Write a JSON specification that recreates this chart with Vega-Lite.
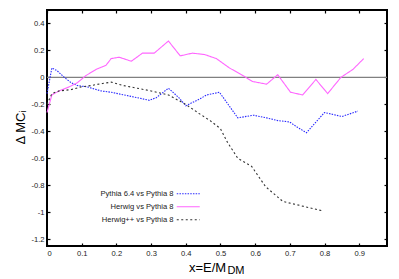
{
  "$schema": "https://vega.github.io/schema/vega-lite/v6.json",
  "width": 340,
  "height": 236,
  "autosize": {"type": "none"},
  "padding": {"left": 47, "top": 10, "right": 12, "bottom": 33},
  "background": "white",
  "config": {
    "view": {"stroke": "black", "strokeWidth": 2},
    "font": "Liberation Sans",
    "axis": {
      "grid": false,
      "domain": false,
      "tickColor": "black",
      "tickWidth": 1.2,
      "tickSize": -3,
      "labelFont": "Liberation Sans",
      "labelFontSize": 7.6,
      "labelColor": "#222",
      "titleFont": "Liberation Sans",
      "titleFontWeight": "normal",
      "titleColor": "black"
    }
  },
  "data": {
    "values": [
      {"series": "Pythia 6.4 vs Pythia 8", "x": 0, "y": -0.12},
      {"series": "Pythia 6.4 vs Pythia 8", "x": 0.014, "y": 0.07},
      {"series": "Pythia 6.4 vs Pythia 8", "x": 0.029, "y": 0.05},
      {"series": "Pythia 6.4 vs Pythia 8", "x": 0.05, "y": 0.0},
      {"series": "Pythia 6.4 vs Pythia 8", "x": 0.07, "y": -0.04},
      {"series": "Pythia 6.4 vs Pythia 8", "x": 0.087, "y": -0.06},
      {"series": "Pythia 6.4 vs Pythia 8", "x": 0.116, "y": -0.07},
      {"series": "Pythia 6.4 vs Pythia 8", "x": 0.156, "y": -0.1},
      {"series": "Pythia 6.4 vs Pythia 8", "x": 0.185, "y": -0.11},
      {"series": "Pythia 6.4 vs Pythia 8", "x": 0.222, "y": -0.13},
      {"series": "Pythia 6.4 vs Pythia 8", "x": 0.26, "y": -0.15},
      {"series": "Pythia 6.4 vs Pythia 8", "x": 0.295, "y": -0.17},
      {"series": "Pythia 6.4 vs Pythia 8", "x": 0.315, "y": -0.15},
      {"series": "Pythia 6.4 vs Pythia 8", "x": 0.35, "y": -0.08},
      {"series": "Pythia 6.4 vs Pythia 8", "x": 0.38, "y": -0.15},
      {"series": "Pythia 6.4 vs Pythia 8", "x": 0.4, "y": -0.21},
      {"series": "Pythia 6.4 vs Pythia 8", "x": 0.44, "y": -0.16},
      {"series": "Pythia 6.4 vs Pythia 8", "x": 0.46, "y": -0.13},
      {"series": "Pythia 6.4 vs Pythia 8", "x": 0.497, "y": -0.11},
      {"series": "Pythia 6.4 vs Pythia 8", "x": 0.55, "y": -0.3},
      {"series": "Pythia 6.4 vs Pythia 8", "x": 0.595, "y": -0.28},
      {"series": "Pythia 6.4 vs Pythia 8", "x": 0.633, "y": -0.3},
      {"series": "Pythia 6.4 vs Pythia 8", "x": 0.665, "y": -0.32},
      {"series": "Pythia 6.4 vs Pythia 8", "x": 0.699, "y": -0.33},
      {"series": "Pythia 6.4 vs Pythia 8", "x": 0.722, "y": -0.37},
      {"series": "Pythia 6.4 vs Pythia 8", "x": 0.748, "y": -0.41},
      {"series": "Pythia 6.4 vs Pythia 8", "x": 0.772, "y": -0.34},
      {"series": "Pythia 6.4 vs Pythia 8", "x": 0.8, "y": -0.26},
      {"series": "Pythia 6.4 vs Pythia 8", "x": 0.85, "y": -0.29},
      {"series": "Pythia 6.4 vs Pythia 8", "x": 0.896, "y": -0.25},

      {"series": "Herwig vs Pythia 8", "x": 0, "y": -0.26},
      {"series": "Herwig vs Pythia 8", "x": 0.014, "y": -0.13},
      {"series": "Herwig vs Pythia 8", "x": 0.035, "y": -0.1},
      {"series": "Herwig vs Pythia 8", "x": 0.064, "y": -0.07},
      {"series": "Herwig vs Pythia 8", "x": 0.087, "y": -0.04},
      {"series": "Herwig vs Pythia 8", "x": 0.113, "y": 0.015},
      {"series": "Herwig vs Pythia 8", "x": 0.142, "y": 0.06},
      {"series": "Herwig vs Pythia 8", "x": 0.17, "y": 0.09},
      {"series": "Herwig vs Pythia 8", "x": 0.185, "y": 0.14},
      {"series": "Herwig vs Pythia 8", "x": 0.208, "y": 0.15},
      {"series": "Herwig vs Pythia 8", "x": 0.243, "y": 0.12},
      {"series": "Herwig vs Pythia 8", "x": 0.275, "y": 0.18},
      {"series": "Herwig vs Pythia 8", "x": 0.309, "y": 0.18},
      {"series": "Herwig vs Pythia 8", "x": 0.35, "y": 0.27},
      {"series": "Herwig vs Pythia 8", "x": 0.384, "y": 0.16},
      {"series": "Herwig vs Pythia 8", "x": 0.419, "y": 0.18},
      {"series": "Herwig vs Pythia 8", "x": 0.454, "y": 0.17},
      {"series": "Herwig vs Pythia 8", "x": 0.488, "y": 0.14},
      {"series": "Herwig vs Pythia 8", "x": 0.526, "y": 0.07},
      {"series": "Herwig vs Pythia 8", "x": 0.564, "y": 0.015},
      {"series": "Herwig vs Pythia 8", "x": 0.592, "y": -0.03},
      {"series": "Herwig vs Pythia 8", "x": 0.613, "y": -0.04},
      {"series": "Herwig vs Pythia 8", "x": 0.633, "y": -0.05},
      {"series": "Herwig vs Pythia 8", "x": 0.665, "y": 0.02},
      {"series": "Herwig vs Pythia 8", "x": 0.702, "y": -0.11},
      {"series": "Herwig vs Pythia 8", "x": 0.737, "y": -0.13},
      {"series": "Herwig vs Pythia 8", "x": 0.775, "y": -0.015},
      {"series": "Herwig vs Pythia 8", "x": 0.809, "y": -0.12},
      {"series": "Herwig vs Pythia 8", "x": 0.847, "y": 0.0},
      {"series": "Herwig vs Pythia 8", "x": 0.882, "y": 0.06},
      {"series": "Herwig vs Pythia 8", "x": 0.913, "y": 0.14},

      {"series": "Herwig++ vs Pythia 8", "x": 0, "y": -0.2},
      {"series": "Herwig++ vs Pythia 8", "x": 0.014, "y": -0.12},
      {"series": "Herwig++ vs Pythia 8", "x": 0.035, "y": -0.1},
      {"series": "Herwig++ vs Pythia 8", "x": 0.07, "y": -0.09},
      {"series": "Herwig++ vs Pythia 8", "x": 0.098, "y": -0.07},
      {"series": "Herwig++ vs Pythia 8", "x": 0.127, "y": -0.06},
      {"series": "Herwig++ vs Pythia 8", "x": 0.16, "y": -0.045},
      {"series": "Herwig++ vs Pythia 8", "x": 0.185, "y": -0.035},
      {"series": "Herwig++ vs Pythia 8", "x": 0.22, "y": -0.06},
      {"series": "Herwig++ vs Pythia 8", "x": 0.26, "y": -0.08},
      {"series": "Herwig++ vs Pythia 8", "x": 0.3, "y": -0.1},
      {"series": "Herwig++ vs Pythia 8", "x": 0.35, "y": -0.13},
      {"series": "Herwig++ vs Pythia 8", "x": 0.4, "y": -0.2},
      {"series": "Herwig++ vs Pythia 8", "x": 0.44, "y": -0.27},
      {"series": "Herwig++ vs Pythia 8", "x": 0.47, "y": -0.32},
      {"series": "Herwig++ vs Pythia 8", "x": 0.5, "y": -0.38},
      {"series": "Herwig++ vs Pythia 8", "x": 0.52, "y": -0.48},
      {"series": "Herwig++ vs Pythia 8", "x": 0.55, "y": -0.6},
      {"series": "Herwig++ vs Pythia 8", "x": 0.59, "y": -0.66},
      {"series": "Herwig++ vs Pythia 8", "x": 0.63, "y": -0.81},
      {"series": "Herwig++ vs Pythia 8", "x": 0.68, "y": -0.92},
      {"series": "Herwig++ vs Pythia 8", "x": 0.73, "y": -0.95},
      {"series": "Herwig++ vs Pythia 8", "x": 0.795, "y": -0.99}
    ]
  },
  "layer": [
    {
      "data": {"values": [{"label": "zero"}]},
      "mark": {"type": "rule", "color": "#808080", "strokeWidth": 1.3},
      "encoding": {
        "x": {"datum": 0, "type": "quantitative", "scale": {"domain": [0, 0.98], "nice": false, "zero": false},
          "axis": {"orient": "top", "labels": false, "title": null, "values": [0, 0.1, 0.2, 0.3, 0.4, 0.5, 0.6, 0.7, 0.8, 0.9]}},
        "x2": {"datum": 0.98},
        "y": {"datum": 0, "type": "quantitative", "scale": {"domain": [-1.25, 0.5], "nice": false, "zero": false},
          "axis": {"orient": "right", "labels": false, "title": null, "values": [-1.2, -1, -0.8, -0.6, -0.4, -0.2, 0, 0.2, 0.4]}}
      }
    },
    {
      "mark": {"type": "line", "strokeWidth": 1.1},
      "encoding": {
        "x": {"field": "x", "type": "quantitative",
          "axis": {"orient": "bottom", "values": [0, 0.1, 0.2, 0.3, 0.4, 0.5, 0.6, 0.7, 0.8, 0.9],
            "labelExpr": "replace(format(datum.value, '~g'), '\u2212', '-')", "labelPadding": 6,
            "title": "x=E/M", "titleFontSize": 13, "titleX": 160, "titleY": 25, "titleAlign": "center", "titleBaseline": "alphabetic"}},
        "y": {"field": "y", "type": "quantitative",
          "axis": {"orient": "left", "values": [-1.2, -1, -0.8, -0.6, -0.4, -0.2, 0, 0.2, 0.4],
            "labelExpr": "replace(format(datum.value, '~g'), '\u2212', '-')", "labelPadding": 6,
            "title": "\u0394 MC\u1d62", "titleFontSize": 13, "titleX": -27, "titleY": 117, "titleAngle": -90, "titleAlign": "center", "titleBaseline": "middle"}},
        "color": {"field": "series", "type": "nominal",
          "scale": {"domain": ["Pythia 6.4 vs Pythia 8", "Herwig vs Pythia 8", "Herwig++ vs Pythia 8"], "range": ["#2a2aff", "#ff66ff", "#333333"]},
          "legend": {"title": null, "orient": "none", "legendX": 134.75, "legendY": 177.25, "padding": 0,
            "symbolType": "M-2,0H2", "symbolSize": 132.25, "symbolStrokeWidth": 1.1, "symbolFillColor": "transparent",
            "labelAlign": "right", "labelOffset": -21.25, "labelFontSize": 7.6, "labelFont": "Liberation Sans", "labelColor": "#222",
            "rowPadding": 2}},
        "strokeDash": {"field": "series", "type": "nominal",
          "scale": {"domain": ["Pythia 6.4 vs Pythia 8", "Herwig vs Pythia 8", "Herwig++ vs Pythia 8"], "range": [[1.5, 1.2], [1, 0], [2, 2.5]]},
          "legend": {"title": null, "orient": "none", "legendX": 134.75, "legendY": 177.25, "padding": 0,
            "symbolType": "M-2,0H2", "symbolSize": 132.25, "symbolStrokeWidth": 1.1, "symbolFillColor": "transparent",
            "labelAlign": "right", "labelOffset": -21.25, "labelFontSize": 7.6, "labelFont": "Liberation Sans", "labelColor": "#222",
            "rowPadding": 2}}
      }
    },
    {
      "data": {"values": [{"label": "DM"}]},
      "mark": {"type": "text", "fontSize": 11, "align": "left", "baseline": "alphabetic", "font": "Liberation Sans", "clip": false},
      "encoding": {
        "text": {"field": "label"},
        "x": {"datum": 0.52, "type": "quantitative", "axis": null},
        "y": {"datum": -1.46, "type": "quantitative", "axis": null}
      }
    }
  ],
  "resolve": {"axis": {"x": "independent", "y": "independent"}}
}
